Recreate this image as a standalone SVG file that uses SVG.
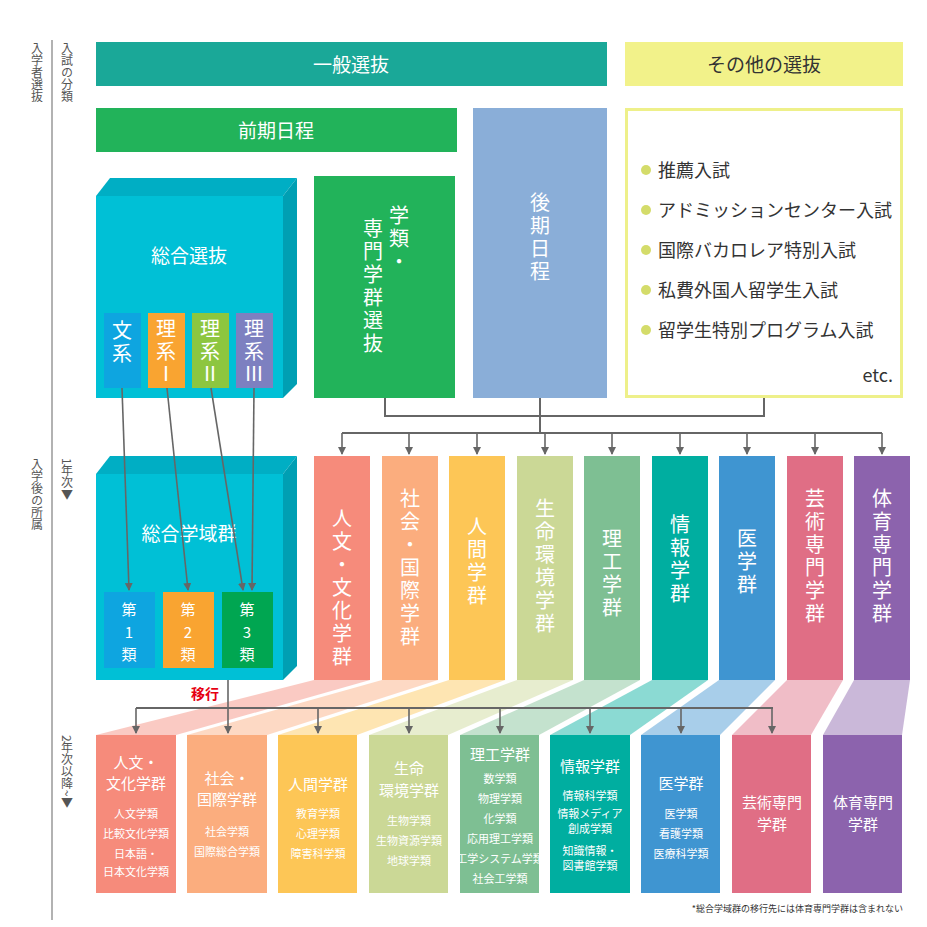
<svg xmlns="http://www.w3.org/2000/svg" width="927" height="927" viewBox="0 0 927 927">
<style>
text{font-family:"Noto Sans CJK JP","Noto Sans",sans-serif;}
.w{fill:#fff}
.v{writing-mode:vertical-rl;fill:#fff;font-size:20px;letter-spacing:3px}
.ax{writing-mode:vertical-rl;fill:#555;font-size:12px}
.c{stroke:#666;stroke-width:2;fill:none}
.ca{stroke:#666;stroke-width:1.6;fill:none;marker-end:url(#ah)}
.h{font-size:19px;fill:#fff;text-anchor:middle}
.s{font-size:11px;fill:#fff;text-anchor:middle}
.t{font-size:15px;fill:#fff;text-anchor:middle}
</style>
<defs>
<marker id="ah" markerWidth="8" markerHeight="8" refX="7" refY="4" orient="auto" markerUnits="userSpaceOnUse"><path d="M0,0 L8,4 L0,8 z" fill="#666"/></marker>
</defs>
<rect width="927" height="927" fill="#fff"/>
<g id="axis">
<line x1="52" y1="40" x2="52" y2="920" stroke="#999" stroke-width="1.5"/>
<text class="ax" x="37" y="42">入学者選抜</text>
<text class="ax" x="67" y="42">入試の分類</text>
<text class="ax" x="37" y="458">入学後の所属</text>
<text class="ax" x="67" y="458">1年次▼</text>
<text class="ax" x="67" y="735">2年次以降~▼</text>
</g>
<g id="bands" opacity="0.45">
<polygon points="314,680 370,680 176,735 96,735" fill="#f68b7b"/>
<polygon points="382,680 438,680 267,735 187,735" fill="#fbad7e"/>
<polygon points="449,680 505,680 357,735 278,735" fill="#fdc656"/>
<polygon points="517,680 573,680 448,735 369,735" fill="#cbd896"/>
<polygon points="584,680 640,680 539,735 460,735" fill="#7ebf93"/>
<polygon points="652,680 708,680 630,735 550,735" fill="#00aea0"/>
<polygon points="719,680 775,680 720,735 641,735" fill="#3f95d1"/>
<polygon points="787,680 843,680 811,735 732,735" fill="#e06e85"/>
<polygon points="854,680 910,680 902,735 823,735" fill="#8c63ad"/>
</g>
<g id="general"><rect x="96" y="42" width="511" height="44" fill="#1aa898"/><text class="h" x="351" y="72">一般選抜</text></g>
<g id="other-head"><rect x="625" y="42" width="278" height="44" fill="#f2f28a"/><text x="764" y="72" font-size="19" text-anchor="middle" fill="#333">その他の選抜</text></g>
<g id="zenki"><rect x="96" y="108" width="361" height="44" fill="#22b35a"/><text class="h" x="276" y="138">前期日程</text></g>
<g id="kouki"><rect x="473" y="108" width="134" height="290" fill="#8aaed8"/><text class="v" x="540" y="192">後期日程</text></g>
<g id="other"><rect x="626.5" y="109.5" width="275" height="287" fill="#fff" stroke="#eef08a" stroke-width="3"/>
<g font-size="18" fill="#333">
<circle cx="646" cy="170" r="5" fill="#d4dc6a"/><text x="658" y="177">推薦入試</text>
<circle cx="646" cy="210" r="5" fill="#d4dc6a"/><text x="658" y="217">アドミッションセンター入試</text>
<circle cx="646" cy="250" r="5" fill="#d4dc6a"/><text x="658" y="257">国際バカロレア特別入試</text>
<circle cx="646" cy="290" r="5" fill="#d4dc6a"/><text x="658" y="297">私費外国人留学生入試</text>
<circle cx="646" cy="330" r="5" fill="#d4dc6a"/><text x="658" y="337">留学生特別プログラム入試</text>
<text x="893" y="382" text-anchor="end" font-family="Liberation Sans,sans-serif">etc.</text></g></g>
<g id="senmon"><rect x="314" y="176" width="141" height="222" fill="#22b35a"/>
<text class="v" x="399" y="205">学類・</text><text class="v" x="373" y="218">専門学群選抜</text></g>
<g id="sougou-senbatsu">
<polygon points="96,196 110,178 297,178 283,196" fill="#00aec4"/>
<polygon points="283,196 297,178 297,384 283,398" fill="#009fb3"/>
<rect x="96" y="196" width="187" height="202" fill="#00c0d6"/>
<text class="h" x="189" y="263">総合選抜</text>
<rect x="104" y="313" width="37" height="75" fill="#0ea5e0"/><text class="v" x="122" y="320" font-size="14" letter-spacing="0">文系</text>
<rect x="148" y="313" width="37" height="75" fill="#f9a431"/><text class="v" x="166" y="318" font-size="14" letter-spacing="0">理系Ⅰ</text>
<rect x="192" y="313" width="37" height="75" fill="#8dc63f"/><text class="v" x="210" y="318" font-size="14" letter-spacing="0">理系Ⅱ</text>
<rect x="236" y="313" width="37" height="75" fill="#7d80c0"/><text class="v" x="254" y="318" font-size="14" letter-spacing="0">理系Ⅲ</text>
</g>
<g id="sougou-gakuiki">
<polygon points="96,474 110,456 297,456 283,474" fill="#00aec4"/>
<polygon points="283,474 297,456 297,666 283,680" fill="#009fb3"/>
<rect x="96" y="474" width="187" height="206" fill="#00c0d6"/>
<text class="h" x="189" y="541">総合学域群</text>
<rect x="104" y="592" width="51" height="76" fill="#0ea5e0"/><text class="t" x="129" y="615" font-size="14">第</text><text class="t" x="129" y="638" font-size="14">1</text><text class="t" x="129" y="660" font-size="14">類</text>
<rect x="163" y="592" width="51" height="76" fill="#f9a431"/><text class="t" x="188" y="615" font-size="14">第</text><text class="t" x="188" y="638" font-size="14">2</text><text class="t" x="188" y="660" font-size="14">類</text>
<rect x="222" y="592" width="51" height="76" fill="#00a651"/><text class="t" x="247" y="615" font-size="14">第</text><text class="t" x="247" y="638" font-size="14">3</text><text class="t" x="247" y="660" font-size="14">類</text>
</g>
<g id="year1">
<rect x="314" y="456" width="56" height="224" fill="#f68b7b"/><text class="v" x="342" y="508">人文・文化学群</text>
<rect x="382" y="456" width="56" height="224" fill="#fbad7e"/><text class="v" x="410" y="488">社会・国際学群</text>
<rect x="449" y="456" width="56" height="224" fill="#fdc656"/><text class="v" x="477" y="516">人間学群</text>
<rect x="517" y="456" width="56" height="224" fill="#cbd896"/><text class="v" x="545" y="498">生命環境学群</text>
<rect x="584" y="456" width="56" height="224" fill="#7ebf93"/><text class="v" x="612" y="528">理工学群</text>
<rect x="652" y="456" width="56" height="224" fill="#00aea0"/><text class="v" x="680" y="514">情報学群</text>
<rect x="719" y="456" width="56" height="224" fill="#3f95d1"/><text class="v" x="747" y="528">医学群</text>
<rect x="787" y="456" width="56" height="224" fill="#e06e85"/><text class="v" x="815" y="488">芸術専門学群</text>
<rect x="854" y="456" width="56" height="224" fill="#8c63ad"/><text class="v" x="882" y="488">体育専門学群</text>
</g>
<g id="year2">
<rect x="96" y="735" width="80" height="158" fill="#f68b7b"/><text class="t" x="136" y="768">人文・</text><text class="t" x="136" y="789">文化学群</text>
<text class="s" x="136" y="818">人文学類</text><text class="s" x="136" y="838">比較文化学類</text><text class="s" x="136" y="858">日本語・</text><text class="s" x="136" y="876">日本文化学類</text>
<rect x="187" y="735" width="80" height="158" fill="#fbad7e"/><text class="t" x="227" y="784">社会・</text><text class="t" x="227" y="805">国際学群</text>
<text class="s" x="227" y="836">社会学類</text><text class="s" x="227" y="856">国際総合学類</text>
<rect x="278" y="735" width="79" height="158" fill="#fdc656"/><text class="t" x="318" y="790">人間学群</text>
<text class="s" x="318" y="818">教育学類</text><text class="s" x="318" y="838">心理学類</text><text class="s" x="318" y="858">障害科学類</text>
<rect x="369" y="735" width="79" height="158" fill="#cbd896"/><text class="t" x="409" y="774">生命</text><text class="t" x="409" y="796">環境学群</text>
<text class="s" x="409" y="825">生物学類</text><text class="s" x="409" y="845">生物資源学類</text><text class="s" x="409" y="865">地球学類</text>
<rect x="460" y="735" width="79" height="158" fill="#7ebf93"/><text class="t" x="500" y="760">理工学群</text>
<text class="s" x="500" y="783">数学類</text><text class="s" x="500" y="803">物理学類</text><text class="s" x="500" y="823">化学類</text><text class="s" x="500" y="843">応用理工学類</text><text class="s" x="500" y="863">工学システム学類</text><text class="s" x="500" y="883">社会工学類</text>
<rect x="550" y="735" width="80" height="158" fill="#00aea0"/><text class="t" x="590" y="772">情報学群</text>
<text class="s" x="590" y="800">情報科学類</text><text class="s" x="590" y="818">情報メディア</text><text class="s" x="590" y="833">創成学類</text><text class="s" x="590" y="855">知識情報・</text><text class="s" x="590" y="870">図書館学類</text>
<rect x="641" y="735" width="79" height="158" fill="#3f95d1"/><text class="t" x="681" y="789">医学群</text>
<text class="s" x="681" y="818">医学類</text><text class="s" x="681" y="838">看護学類</text><text class="s" x="681" y="858">医療科学類</text>
<rect x="732" y="735" width="79" height="158" fill="#e06e85"/><text class="t" x="772" y="808">芸術専門</text><text class="t" x="772" y="830">学群</text>
<rect x="823" y="735" width="79" height="158" fill="#8c63ad"/><text class="t" x="863" y="808">体育専門</text><text class="t" x="863" y="830">学群</text>
</g>
<g id="connectors">
<line class="ca" x1="122" y1="388" x2="129" y2="590"/>
<line class="ca" x1="167" y1="388" x2="188" y2="590"/>
<line class="ca" x1="211" y1="388" x2="243" y2="590"/>
<line class="ca" x1="254" y1="388" x2="252" y2="590"/>
<polyline class="c" points="385,398 385,416 764,416 764,398"/>
<line class="c" x1="540" y1="398" x2="540" y2="433"/>
<line class="c" x1="342" y1="433" x2="882" y2="433"/>
<line class="ca" x1="342" y1="433" x2="342" y2="454"/>
<line class="ca" x1="409" y1="433" x2="409" y2="454"/>
<line class="ca" x1="477" y1="433" x2="477" y2="454"/>
<line class="ca" x1="545" y1="433" x2="545" y2="454"/>
<line class="ca" x1="612" y1="433" x2="612" y2="454"/>
<line class="ca" x1="680" y1="433" x2="680" y2="454"/>
<line class="ca" x1="747" y1="433" x2="747" y2="454"/>
<line class="ca" x1="815" y1="433" x2="815" y2="454"/>
<line class="ca" x1="882" y1="433" x2="882" y2="454"/>
<line class="ca" x1="228" y1="680" x2="228" y2="733"/>
<line class="c" x1="136" y1="708" x2="773" y2="708"/>
<line class="ca" x1="136" y1="708" x2="136" y2="733"/>
<line class="ca" x1="318" y1="708" x2="318" y2="733"/>
<line class="ca" x1="409" y1="708" x2="409" y2="733"/>
<line class="ca" x1="500" y1="708" x2="500" y2="733"/>
<line class="ca" x1="590" y1="708" x2="590" y2="733"/>
<line class="ca" x1="681" y1="708" x2="681" y2="733"/>
<line class="ca" x1="772" y1="708" x2="772" y2="733"/>
<text x="205" y="699" font-size="14" font-weight="bold" fill="#e60012" text-anchor="middle">移行</text>
</g>
<text x="903" y="912" font-size="9" fill="#333" text-anchor="end">*総合学域群の移行先には体育専門学群は含まれない</text>
</svg>
